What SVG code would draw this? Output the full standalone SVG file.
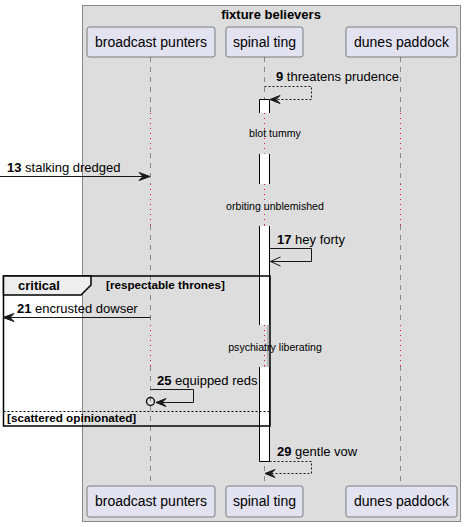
<svg xmlns="http://www.w3.org/2000/svg" width="465" height="527" viewBox="0 0 465 527">
<style>
text{font-family:"Liberation Sans",Arial,sans-serif;fill:#000}
.pn{font-size:14px}
.msg{font-size:13px}
.num{font-weight:bold}
.dl{font-size:10.6px}
.grp{font-size:11.7px;font-weight:bold}
.pbox{fill:#E2E2F0;stroke:#181818;stroke-width:0.5}
.life{stroke:#888;stroke-width:1;stroke-dasharray:5,5;fill:none}
.delay{stroke:#DC143C;stroke-width:1;stroke-dasharray:1,4;fill:none}
.bar{fill:#fff;stroke:none}
.edge{stroke:#000;stroke-width:1;fill:none}
.solid{stroke:#181818;stroke-width:1;fill:none}
.dash{stroke:#181818;stroke-width:1;stroke-dasharray:2,2;fill:none}
.head{fill:#181818;stroke:#181818;stroke-width:1}
</style>
<rect x="82.5" y="5.5" width="378" height="516" fill="#DDDDDD" stroke="#888" stroke-width="1"/>
<text x="271" y="19" font-size="13" font-weight="bold" text-anchor="middle">fixture believers</text>

<g id="lifelines">
<path class="life" d="M150.5,57 V113 M150.5,153 V184 M150.5,225 V325 M150.5,366 V486"/>
<path class="life" d="M264.5,57 V113 M264.5,153 V184 M264.5,225 V325 M264.5,366 V486"/>
<path class="life" d="M400.5,57 V113 M400.5,153 V184 M400.5,225 V325 M400.5,366 V486"/>
<path class="delay" d="M150.5,113 V153 M150.5,184 V225 M150.5,325 V366"/>
<path class="delay" d="M264.5,113 V153 M264.5,184 V225 M264.5,325 V366"/>
<path class="delay" d="M400.5,113 V153 M400.5,184 V225 M400.5,325 V366"/>
</g>

<g id="activations">
<rect class="bar" x="259.5" y="99.5" width="10" height="13.5"/>
<path class="edge" d="M259.5,113 V99.5 H269.5 V113"/>
<rect class="bar" x="259.5" y="154" width="10" height="30"/>
<path class="edge" d="M259.5,154 V184 M269.5,154 V184"/>
<rect class="bar" x="259.5" y="226" width="10" height="99"/>
<path class="edge" d="M259.5,226 V325 M269.5,226 V325"/>
<line x1="268" y1="325" x2="268" y2="367" stroke="#b8b8b8" stroke-width="2"/>
<rect class="bar" x="259.5" y="367" width="10" height="94.5"/>
<path class="edge" d="M259.5,367 V461.5 H269.5 V367"/>
</g>

<g id="delays">
<text class="dl" x="275" y="137" text-anchor="middle">blot tummy</text>
<text class="dl" x="275" y="210" text-anchor="middle">orbiting unblemished</text>
<text class="dl" x="275" y="351" text-anchor="middle">psychiatry liberating</text>
</g>

<g id="critical">
<rect x="3.5" y="276" width="266.5" height="150" fill="none" stroke="#000" stroke-width="1.5"/>
<path d="M3.5,276 H91 V285 L81,295 H3.5 Z" fill="#EEEEEE" stroke="#000" stroke-width="1.5"/>
<text x="18" y="290" font-size="13" font-weight="bold">critical</text>
<text class="grp" x="106" y="289">[respectable thrones]</text>
<line x1="3.5" y1="411.5" x2="270" y2="411.5" stroke="#000" stroke-width="1" stroke-dasharray="2,2"/>
<text class="grp" x="7" y="422">[scattered opinionated]</text>
</g>

<g id="connectors">
<path class="dash" d="M264.5,86.5 H311.5 V99.5 H272"/>
<polygon class="head" points="270,99.5 280,95.5 276,99.5 280,103.5"/>
<text class="msg" x="276" y="81"><tspan class="num">9</tspan> threatens prudence</text>

<line class="solid" x1="0" y1="176.5" x2="148" y2="176.5"/>
<polygon class="head" points="150,176.5 139,172.5 143,176.5 139,180.5"/>
<text class="msg" x="7" y="172"><tspan class="num">13</tspan> stalking dredged</text>

<path class="solid" d="M269.5,248.5 H311.5 V261.5 H270.5"/>
<path class="solid" d="M280.5,257 L270.5,261.5 L280.5,266"/>
<text class="msg" x="277" y="244"><tspan class="num">17</tspan> hey forty</text>

<line class="solid" x1="150.5" y1="317.5" x2="6" y2="317.5"/>
<polygon class="head" points="3,317.5 14,313.5 10,317.5 14,321.5"/>
<text class="msg" x="17" y="313"><tspan class="num">21</tspan> encrusted dowser</text>

<path class="solid" d="M150.5,389.5 H193.5 V402.5 H159"/>
<polygon class="head" points="156,402.5 166,398.5 162,402.5 166,406.5"/>
<circle cx="150.5" cy="401.5" r="4" fill="none" stroke="#181818" stroke-width="1.5"/>
<text class="msg" x="157" y="385"><tspan class="num">25</tspan> equipped reds</text>

<path class="dash" d="M269.5,461.5 H311.5 V473.5 H268"/>
<polygon class="head" points="265,473.5 275,469.5 271,473.5 275,477.5"/>
<text class="msg" x="277" y="456"><tspan class="num">29</tspan> gentle vow</text>
</g>

<g id="p-broadcast-punters">
<rect class="pbox" x="87" y="27" width="128" height="30" rx="2.5"/>
<text class="pn" x="151" y="47" text-anchor="middle">broadcast punters</text>
<rect class="pbox" x="87" y="486" width="128" height="31" rx="2.5"/>
<text class="pn" x="151" y="506" text-anchor="middle">broadcast punters</text>
</g>
<g id="p-spinal-ting">
<rect class="pbox" x="226" y="27" width="77" height="30" rx="2.5"/>
<text class="pn" x="264.5" y="47" text-anchor="middle">spinal ting</text>
<rect class="pbox" x="226" y="486" width="77" height="31" rx="2.5"/>
<text class="pn" x="264.5" y="506" text-anchor="middle">spinal ting</text>
</g>
<g id="p-dunes-paddock">
<rect class="pbox" x="346" y="27" width="111" height="30" rx="2.5"/>
<text class="pn" x="401.5" y="47" text-anchor="middle">dunes paddock</text>
<rect class="pbox" x="346" y="486" width="111" height="31" rx="2.5"/>
<text class="pn" x="401.5" y="506" text-anchor="middle">dunes paddock</text>
</g>
</svg>
